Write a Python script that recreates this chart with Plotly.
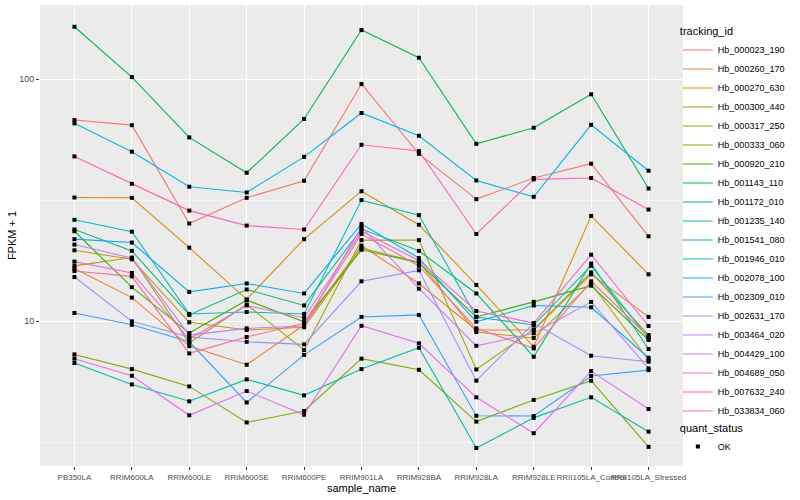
import plotly.graph_objects as go

samples = ["PB350LA", "RRIM600LA", "RRIM600LE", "RRIM600SE", "RRIM600PE", "RRIM901LA",
           "RRIM928BA", "RRIM928LA", "RRIM928LE", "RRII105LA_Control", "RRII105LA_Stressed"]

hb_000023_190 = [67.7, 64.5, 25.3, 32.3, 38.0, 95.4, 49.1, 31.9, 39.0, 44.7, 22.4]
hb_000260_170 = [16.5, 12.5, 7.88, 6.6, 9.63, 20.5, 14.3, 9.18, 9.18, 15.6, 10.4]
hb_000270_630 = [32.4, 32.3, 20.1, 12.3, 21.8, 34.4, 25.0, 14.1, 7.83, 27.2, 15.6]
hb_000300_440 = [19.6, 18.0, 9.88, 9.18, 9.42, 20.0, 17.5, 9.01, 8.51, 14.3, 6.90]
hb_000317_250 = [16.9, 18.3, 8.11, 11.7, 7.59, 21.6, 21.6, 6.31, 9.24, 15.9, 8.75]
hb_000333_060 = [7.28, 6.33, 5.37, 3.81, 4.25, 6.99, 6.29, 3.84, 4.72, 5.67, 3.02]
hb_000920_210 = [23.5, 13.8, 8.92, 12.2, 9.93, 19.7, 17.4, 10.4, 12.0, 14.0, 8.35]
hb_001143_110 = [164.5, 101.9, 57.4, 41.0, 68.4, 159.4, 122.5, 54.0, 62.9, 86.5, 35.3]
hb_001172_010 = [23.9, 19.5, 10.6, 13.5, 11.6, 24.0, 19.5, 13.0, 7.12, 17.3, 7.66]
hb_001235_140 = [6.71, 5.47, 4.66, 5.74, 4.93, 6.33, 7.76, 2.99, 3.98, 4.84, 3.49]
hb_001541_080 = [26.2, 23.4, 10.7, 10.9, 10.7, 31.6, 27.4, 10.4, 9.63, 16.9, 8.48]
hb_001946_010 = [65.6, 50.1, 35.9, 34.0, 47.7, 72.4, 58.3, 38.1, 32.6, 64.7, 41.8]
hb_002078_100 = [21.8, 21.1, 13.2, 14.3, 13.0, 25.2, 18.2, 9.93, 11.6, 11.4, 7.05]
hb_002309_010 = [10.8, 9.65, 8.21, 4.61, 7.25, 10.4, 10.6, 4.06, 4.05, 5.93, 6.27]
hb_002631_170 = [15.2, 9.97, 8.59, 8.21, 8.01, 14.6, 16.2, 5.67, 9.78, 7.19, 6.79]
hb_003464_020 = [20.7, 18.2, 8.75, 9.33, 9.54, 24.5, 13.6, 7.9, 8.9, 12.0, 6.37]
hb_004429_100 = [6.99, 5.94, 4.08, 5.14, 4.10, 9.56, 8.09, 4.84, 3.44, 6.21, 4.33]
hb_004689_050 = [17.6, 15.8, 8.43, 11.6, 10.3, 23.5, 17.8, 11.0, 9.81, 18.8, 9.54]
hb_007632_240 = [47.9, 36.9, 28.6, 24.8, 23.9, 53.5, 50.4, 22.9, 38.5, 39.0, 28.9]
hb_033834_060 = [16.1, 15.3, 7.35, 8.59, 9.78, 22.9, 16.9, 9.33, 7.71, 14.6, 8.61]

tracking_ids = ["Hb_000023_190", "Hb_000260_170", "Hb_000270_630", "Hb_000300_440",
                "Hb_000317_250", "Hb_000333_060", "Hb_000920_210", "Hb_001143_110",
                "Hb_001172_010", "Hb_001235_140", "Hb_001541_080", "Hb_001946_010",
                "Hb_002078_100", "Hb_002309_010", "Hb_002631_170", "Hb_003464_020",
                "Hb_004429_100", "Hb_004689_050", "Hb_007632_240", "Hb_033834_060"]
series = [hb_000023_190, hb_000260_170, hb_000270_630, hb_000300_440, hb_000317_250,
          hb_000333_060, hb_000920_210, hb_001143_110, hb_001172_010, hb_001235_140,
          hb_001541_080, hb_001946_010, hb_002078_100, hb_002309_010, hb_002631_170,
          hb_003464_020, hb_004429_100, hb_004689_050, hb_007632_240, hb_033834_060]
colors = ["#F8766D", "#EA8331", "#D89000", "#C09B00", "#A3A500", "#7CAE00", "#39B600",
          "#00BB4E", "#00BF7D", "#00C1A3", "#00BFC4", "#00BAE0", "#00B0F6", "#35A2FF",
          "#9590FF", "#C77CFF", "#E76BF3", "#FA62DB", "#FF62BC", "#FF6C91"]

font = "Liberation Sans, Arial, sans-serif"
fig = go.Figure()
for name, vals, col in zip(tracking_ids, series, colors):
    fig.add_trace(go.Scatter(x=samples, y=vals, mode="lines", name=name,
                             line=dict(color=col, width=1.1), legend="legend"))

all_x = [s for vals in series for s in samples]
all_y = [v for vals in series for v in vals]
fig.add_trace(go.Scatter(x=all_x, y=all_y, mode="markers", name="OK", legend="legend2",
                         marker=dict(symbol="square", size=4, color="black")))

fig.update_layout(
    width=800, height=500,
    margin=dict(l=40, r=117, t=5, b=34, autoexpand=False),
    paper_bgcolor="white", plot_bgcolor="#EBEBEB",
    font=dict(family=font, size=9, color="black"),
    legend=dict(title=dict(text="tracking_id", font=dict(size=11)),
                x=0.992, xanchor="left", y=0.965, yanchor="top",
                font=dict(size=9), bgcolor="rgba(0,0,0,0)", itemwidth=30),
    legend2=dict(title=dict(text="quant_status", font=dict(size=11)),
                 x=0.992, xanchor="left", y=0.105, yanchor="top",
                 font=dict(size=9), bgcolor="rgba(0,0,0,0)", itemwidth=30),
)
fig.update_xaxes(type="category", categoryorder="array", categoryarray=samples,
                 range=[-0.6, 10.6], tickangle=0, showgrid=True, gridcolor="white",
                 gridwidth=1.1, ticks="outside", ticklen=3, tickcolor="#333333",
                 tickfont=dict(size=8, color="#4D4D4D"), zeroline=False, automargin=False,
                 title=dict(text="sample_name", font=dict(size=11), standoff=2))
fig.update_yaxes(type="log", range=[0.401, 2.306], tickvals=[10, 100], ticktext=["10", "100"],
                 showgrid=True, gridcolor="white", gridwidth=1.1, zeroline=False,
                 ticks="outside", ticklen=3, tickcolor="#333333", automargin=False,
                 tickfont=dict(size=9, color="#4D4D4D"),
                 minor=dict(tickvals=[10 ** 0.5, 10 ** 1.5, 10 ** 2.5], showgrid=True,
                            gridcolor="#F5F5F5", gridwidth=0.5, ticks=""),
                 title=dict(text="FPKM + 1", font=dict(size=11), standoff=0))

fig.write_html("out.html", config={"displayModeBar": False},
               post_script="document.body.style.margin='0';")
